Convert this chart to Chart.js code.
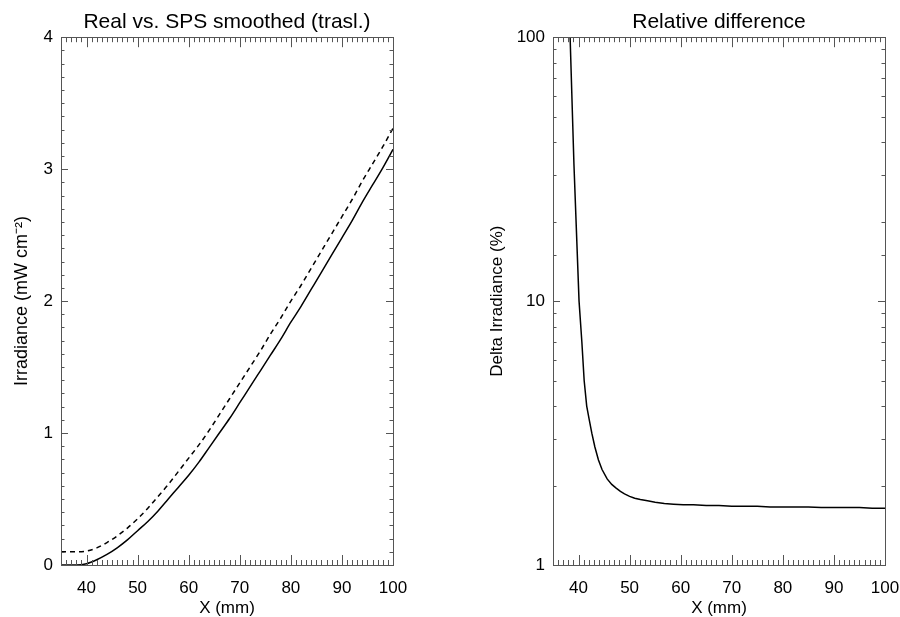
<!DOCTYPE html>
<html>
<head>
<meta charset="utf-8">
<script src="https://cdn.jsdelivr.net/npm/chart.js@4.4.1/dist/chart.umd.min.js"></script>
<style>
  html, body { margin: 0; padding: 0; background: #fff; }
  #wrap { position: relative; width: 900px; height: 617px; }
  .box { position: absolute; top: 0; width: 450px; height: 617px; }
</style>
</head>
<body>
<div id="wrap">
  <div class="box" style="left:0"><canvas id="graficoIrradiancia" width="450" height="617"></canvas></div>
  <div class="box" style="left:450px"><canvas id="graficoDiferenca" width="450" height="617"></canvas></div>
</div>
<script>
// X positions (mm) of the irradiance curves
const posX = [35, 38, 40, 42, 44, 46, 48, 50, 52, 54, 56, 58, 60, 62, 64, 66, 68, 70, 72, 74, 76, 78, 80, 82, 84, 86, 88, 90, 92, 94, 96, 98, 100];
// real irradiance (solid)
const irrReal = [0, 0, 0.01, 0.04, 0.08, 0.13, 0.19, 0.26, 0.33, 0.41, 0.50, 0.59, 0.68, 0.78, 0.89, 1.00, 1.11, 1.23, 1.35, 1.47, 1.59, 1.71, 1.84, 1.96, 2.09, 2.22, 2.35, 2.48, 2.61, 2.75, 2.88, 3.01, 3.15];
// SPS smoothed, translated (dashed)
const irrSPS = [0.1, 0.1, 0.105, 0.13, 0.17, 0.22, 0.28, 0.35, 0.43, 0.52, 0.61, 0.71, 0.81, 0.91, 1.02, 1.14, 1.26, 1.38, 1.50, 1.62, 1.75, 1.87, 2.00, 2.12, 2.25, 2.38, 2.51, 2.64, 2.77, 2.91, 3.04, 3.17, 3.31];

// relative difference (%)
const relX = [37.2, 38.35, 39.1, 40.1, 40.65, 41.1, 41.6, 42.1, 42.6, 43.2, 43.9, 44.6, 45.6, 46.5, 47.3, 48.2, 49.0, 50.0, 51.0, 52.1, 53.5, 55.0, 56.8, 58.6, 60.5, 62.5, 65, 67.5, 70, 72.5, 75, 77.5, 80, 82.5, 85, 87.5, 90, 92.5, 95, 97.5, 100];
const relY = [100, 100, 33, 10, 7.0, 5.0, 4.0, 3.55, 3.16, 2.8, 2.5, 2.3, 2.12, 2.02, 1.96, 1.90, 1.86, 1.82, 1.79, 1.77, 1.75, 1.73, 1.71, 1.70, 1.69, 1.69, 1.68, 1.68, 1.67, 1.67, 1.67, 1.66, 1.66, 1.66, 1.66, 1.65, 1.65, 1.65, 1.65, 1.64, 1.64];

const xMin = 35, xMax = 100;
const xMajor = [40, 50, 60, 70, 80, 90, 100];
const irrMajor = [0, 1, 2, 3, 4];
const relMajor = [1, 10, 100];

const fonte = 'Liberation Sans, Arial, Helvetica, sans-serif';
const corMoldura = '#555';

const perto = (a, b) => Math.abs(a - b) < 1e-6;
const ehMajorX = v => xMajor.some(m => perto(m, v));

// IDL style frame with inward ticks on the four sides
const molduraIDL = {
    id: 'molduraIDL',
    afterDatasetsDraw(chart, args, opts) {
        const { ctx, chartArea: a } = chart;
        const xs = chart.scales.x, ys = chart.scales.y;
        ctx.save();
        ctx.strokeStyle = corMoldura;
        ctx.lineWidth = 1;
        ctx.beginPath();
        xs.ticks.forEach(t => {
            const px = Math.round(xs.getPixelForValue(t.value)) + 0.5;
            const len = ehMajorX(t.value) ? 10 : 5;
            ctx.moveTo(px, a.bottom); ctx.lineTo(px, a.bottom - len);
            ctx.moveTo(px, a.top); ctx.lineTo(px, a.top + len);
        });
        ys.ticks.forEach(t => {
            const py = Math.round(ys.getPixelForValue(t.value)) + 0.5;
            const len = opts.ehMajorY(t.value) ? 7 : 3.5;
            ctx.moveTo(a.left, py); ctx.lineTo(a.left + len, py);
            ctx.moveTo(a.right, py); ctx.lineTo(a.right - len, py);
        });
        ctx.stroke();
        ctx.strokeRect(Math.round(a.left) + 0.5, Math.round(a.top) + 0.5,
            Math.round(a.right - a.left), Math.round(a.bottom - a.top));
        ctx.restore();
    }
};

function escalaX(alturaEixo) {
    return {
        type: 'linear',
        min: xMin,
        max: xMax,
        grid: { display: false, drawTicks: false },
        border: { display: false },
        ticks: {
            stepSize: 1,
            autoSkip: false,
            maxRotation: 0,
            padding: 13,
            color: '#000',
            font: { family: fonte, size: 17 },
            callback: v => ehMajorX(v) ? String(Math.round(v)) : ''
        },
        title: {
            display: true,
            text: 'X (mm)',
            color: '#000',
            font: { family: fonte, size: 17, lineHeight: 1 },
            padding: 0
        },
        afterFit: (s) => {
            s.height = alturaEixo;
            s.paddingLeft = 0;
            s.paddingRight = 0;
        }
    };
}

function escalaYFit(largura) {
    return (s) => {
        s.width = largura;
        s.paddingTop = 0;
        s.paddingBottom = 0;
    };
}

function titulo(texto) {
    return {
        display: true,
        fullSize: false,
        text: texto,
        color: '#000',
        font: { family: fonte, size: 21, weight: 'normal', lineHeight: 1.2 },
        padding: { top: 10, bottom: 2 }
    };
}

const graficoIrradiancia = new Chart(document.getElementById('graficoIrradiancia'), {
    type: 'line',
    data: {
        datasets: [
            {
                label: 'Real',
                data: posX.map((x, i) => ({ x: x, y: irrReal[i] })),
                borderColor: '#000',
                borderWidth: 1.5,
                pointRadius: 0,
                cubicInterpolationMode: 'monotone'
            },
            {
                label: 'SPS smoothed',
                data: posX.map((x, i) => ({ x: x, y: irrSPS[i] })),
                borderColor: '#000',
                borderWidth: 1.5,
                borderDash: [5, 4],
                pointRadius: 0,
                cubicInterpolationMode: 'monotone'
            }
        ]
    },
    options: {
        responsive: false,
        animation: false,
        layout: { padding: { left: 0, right: 57, top: 0, bottom: 0 } },
        scales: {
            x: escalaX(52),
            y: {
                type: 'linear',
                min: 0,
                max: 4,
                grid: { display: false, drawTicks: false },
                border: { display: false },
                ticks: {
                    stepSize: 0.1,
                    autoSkip: false,
                    padding: 8,
                    color: '#000',
                    font: { family: fonte, size: 17 },
                    callback: v => irrMajor.some(m => perto(m, v)) ? String(Math.round(v)) : ''
                },
                title: {
                    display: true,
                    text: 'Irradiance (mW cm⁻²)',
                    color: '#000',
                    font: { family: fonte, size: 18, lineHeight: 1 },
                    padding: { top: 13, bottom: 0 }
                },
                afterFit: escalaYFit(61)
            }
        },
        plugins: {
            legend: { display: false },
            tooltip: { enabled: false },
            title: titulo('Real vs. SPS smoothed (trasl.)'),
            molduraIDL: { ehMajorY: v => irrMajor.some(m => perto(m, v)) }
        }
    },
    plugins: [molduraIDL]
});

const graficoDiferenca = new Chart(document.getElementById('graficoDiferenca'), {
    type: 'line',
    data: {
        datasets: [{
            label: 'Relative difference',
            data: relX.map((x, i) => ({ x: x, y: relY[i] })),
            borderColor: '#000',
            borderWidth: 1.5,
            pointRadius: 0,
            tension: 0
        }]
    },
    options: {
        responsive: false,
        animation: false,
        layout: { padding: { left: 0, right: 15, top: 0, bottom: 0 } },
        scales: {
            x: escalaX(52),
            y: {
                type: 'logarithmic',
                min: 1,
                max: 100,
                grid: { display: false, drawTicks: false },
                border: { display: false },
                ticks: {
                    autoSkip: false,
                    padding: 8,
                    color: '#000',
                    font: { family: fonte, size: 17 },
                    callback: v => relMajor.some(m => perto(m, v)) ? String(v) : ''
                },
                title: {
                    display: true,
                    text: 'Delta Irradiance (%)',
                    color: '#000',
                    font: { family: fonte, size: 17, lineHeight: 1 },
                    padding: { top: 39, bottom: 0 }
                },
                afterFit: escalaYFit(103)
            }
        },
        plugins: {
            legend: { display: false },
            tooltip: { enabled: false },
            title: titulo('Relative difference'),
            molduraIDL: { ehMajorY: v => relMajor.some(m => perto(m, v)) }
        }
    },
    plugins: [molduraIDL]
});
</script>
</body>
</html>
